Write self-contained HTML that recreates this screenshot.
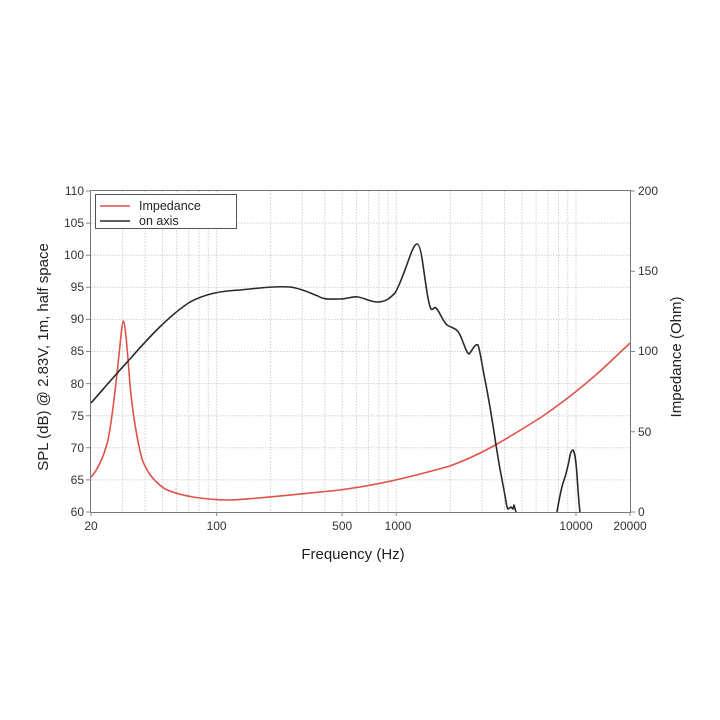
<!DOCTYPE html>
<html><head><meta charset="utf-8"><style>
html,body{margin:0;padding:0;background:#fff;}
svg{display:block;font-family:"Liberation Sans",sans-serif;}
</style></head><body>
<svg width="720" height="720" viewBox="0 0 720 720" xmlns="http://www.w3.org/2000/svg">
<rect width="720" height="720" fill="#fff"/>
<g stroke="#d0d0d0" stroke-width="1" stroke-dasharray="1.5,1.5">
<line x1="91" y1="255.2" x2="630" y2="255.2"/>
<line x1="91" y1="319.4" x2="630" y2="319.4"/>
<line x1="91" y1="383.6" x2="630" y2="383.6"/>
<line x1="91" y1="447.8" x2="630" y2="447.8"/>
<line x1="91" y1="223.1" x2="630" y2="223.1"/>
<line x1="91" y1="287.3" x2="630" y2="287.3"/>
<line x1="91" y1="351.5" x2="630" y2="351.5"/>
<line x1="91" y1="415.7" x2="630" y2="415.7"/>
<line x1="91" y1="479.9" x2="630" y2="479.9"/>
<line x1="122.6" y1="191" x2="122.6" y2="512"/>
<line x1="145.1" y1="191" x2="145.1" y2="512"/>
<line x1="162.5" y1="191" x2="162.5" y2="512"/>
<line x1="176.7" y1="191" x2="176.7" y2="512"/>
<line x1="188.7" y1="191" x2="188.7" y2="512"/>
<line x1="199.1" y1="191" x2="199.1" y2="512"/>
<line x1="208.3" y1="191" x2="208.3" y2="512"/>
<line x1="216.6" y1="191" x2="216.6" y2="512"/>
<line x1="270.7" y1="191" x2="270.7" y2="512"/>
<line x1="302.3" y1="191" x2="302.3" y2="512"/>
<line x1="324.8" y1="191" x2="324.8" y2="512"/>
<line x1="342.2" y1="191" x2="342.2" y2="512"/>
<line x1="356.4" y1="191" x2="356.4" y2="512"/>
<line x1="368.4" y1="191" x2="368.4" y2="512"/>
<line x1="378.8" y1="191" x2="378.8" y2="512"/>
<line x1="388.0" y1="191" x2="388.0" y2="512"/>
<line x1="396.3" y1="191" x2="396.3" y2="512"/>
<line x1="450.4" y1="191" x2="450.4" y2="512"/>
<line x1="482.0" y1="191" x2="482.0" y2="512"/>
<line x1="504.5" y1="191" x2="504.5" y2="512"/>
<line x1="521.9" y1="191" x2="521.9" y2="512"/>
<line x1="536.1" y1="191" x2="536.1" y2="512"/>
<line x1="548.1" y1="191" x2="548.1" y2="512"/>
<line x1="558.5" y1="191" x2="558.5" y2="512"/>
<line x1="567.7" y1="191" x2="567.7" y2="512"/>
<line x1="576.0" y1="191" x2="576.0" y2="512"/>
</g>
<rect x="90.5" y="190.5" width="540" height="322" fill="none" stroke="#777" stroke-width="1"/>
<g stroke="#888" stroke-width="1">
<path d="M86 191H90M86 255.2H90M86 319.4H90M86 383.6H90M86 447.8H90M86 512H90M86 223.1H90M86 287.3H90M86 351.5H90M86 415.7H90M86 479.9H90"/>
<path d="M631 191H635M631 271.3H635M631 351.5H635M631 431.8H635M631 512H635"/>
<path d="M91 512V516M216.6 512V516M342.2 512V516M396.3 512V516M576 512V516M630 512V516"/>
</g>
<g font-size="12" fill="#333" text-anchor="end">
<text x="84" y="195">110</text><text x="84" y="227">105</text><text x="84" y="259">100</text>
<text x="84" y="291">95</text><text x="84" y="323">90</text><text x="84" y="355">85</text>
<text x="84" y="388">80</text><text x="84" y="420">75</text><text x="84" y="452">70</text>
<text x="84" y="484">65</text><text x="84" y="516">60</text>
</g>
<g font-size="12" fill="#333">
<text x="638" y="195">200</text><text x="638" y="275">150</text><text x="638" y="355">100</text>
<text x="638" y="436">50</text><text x="638" y="516">0</text>
</g>
<g font-size="12" fill="#333" text-anchor="middle">
<text x="91" y="530">20</text><text x="216.6" y="530">100</text><text x="342.2" y="530">500</text>
<text x="398" y="530">1000</text><text x="576" y="530">10000</text><text x="630" y="530">20000</text>
</g>
<text x="353" y="559" font-size="15" fill="#222" text-anchor="middle">Frequency (Hz)</text>
<text transform="translate(48,357) rotate(-90)" font-size="15" fill="#222" text-anchor="middle">SPL (dB) @ 2.83V, 1m, half space</text>
<text transform="translate(681,357) rotate(-90)" font-size="15" fill="#222" text-anchor="middle">Impedance (Ohm)</text>
<path fill="none" stroke="#e0524a" stroke-width="1.6" d="M91,477 C96,472 103,460 108,440 C112,420 117,375 120,345 C121.5,330 122.5,321 123.5,321 C125,322 127,345 130,385 C133,415 137,440 142,459 C146,470 152,480 165,489 C180,496 205,500 230,500 C255,499 280,496 340,490 C370,486 400,480 450,466 C480,455 500,443 540,418 C565,401 590,381 610,362 L630,343"/>
<path fill="none" stroke="#2a2a2a" stroke-width="1.6" stroke-linejoin="round" d="M91,403 C100,393 115,375 130,359 C150,336 170,315 190,302 C205,294 220,291 240,290 C260,288 275,286 290,287 C300,288 310,293 318,296 C324,300 330,299 340,299 C348,299 352,296 358,297 C365,298 370,302 378,302 C386,302 390,298 395,293 C400,285 405,270 410,256 C413,248 415,244 417,244 C419,244 421,250 423,265 C426,285 428,303 431,309 C433,311 434,306 436,308 C440,312 442,320 447,325 C452,328 456,328 459,333 C463,340 466,353 469,354 C472,351 475,343 478,345 C480,350 482,365 485,380 C489,400 493,425 496,445 C499,465 501,475 503,485 C505,495 506,502 507,507 L508,509 L511,507 L513,509 L514,505 L516,512"/>
<path fill="none" stroke="#2a2a2a" stroke-width="1.6" stroke-linejoin="round" d="M557,512 C559,500 561,490 563,483 C565,478 567,470 569,461 C570,455 571,450 573,450 C575,452 576,462 577,475 C578,490 579,505 580,512"/>
<rect x="95.5" y="194.5" width="141" height="34" fill="#fff" stroke="#555" stroke-width="1"/>
<line x1="100" y1="206" x2="130" y2="206" stroke="#e0524a" stroke-width="1.6"/>
<line x1="100" y1="221" x2="130" y2="221" stroke="#2a2a2a" stroke-width="1.6"/>
<text x="139" y="210" font-size="12.5" fill="#222">Impedance</text>
<text x="139" y="225" font-size="12.5" fill="#222">on axis</text>
</svg>
</body></html>
